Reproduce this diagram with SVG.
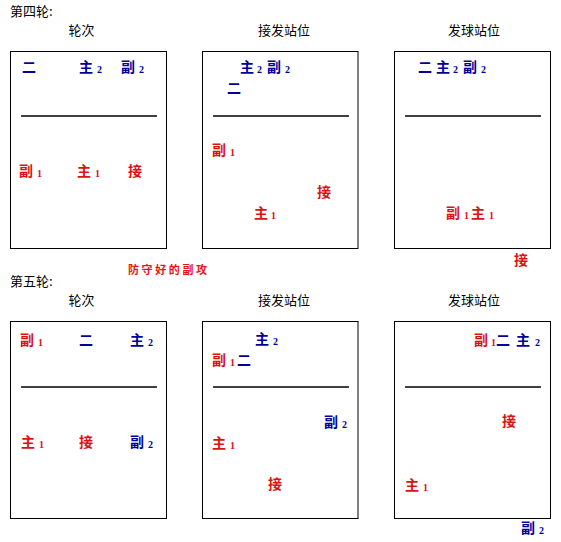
<svg xmlns="http://www.w3.org/2000/svg" width="561" height="542" viewBox="0 0 561 542">
<style>
.t{font-family:"Noto Sans CJK SC","Noto Sans",sans-serif;font-size:13px;fill:#000}
.p{font-family:"Noto Sans CJK SC","Noto Sans",sans-serif;font-size:14px;font-weight:bold}
.s{font-size:10px;font-family:"Liberation Serif",serif;font-weight:bold}
.b{fill:#000099}
.r{fill:#dd1111}
.box{fill:#fff;stroke:#000;stroke-width:1}
.net{stroke:#000;stroke-width:1.5}
.note{font-family:"Noto Sans CJK SC",sans-serif;font-size:11px;font-weight:bold;fill:#ee1111;letter-spacing:2.6px}
</style>
<rect width="561" height="542" fill="#fff"/>
<text class="t" x="10" y="16">第四轮:</text>
<text class="t" x="10" y="286">第五轮:</text>
<text class="note" x="128" y="274">防守好的副攻</text>

<g id="r4-rotation">
<text class="t" x="81.5" y="35" text-anchor="middle">轮次</text>
<rect class="box" x="10.5" y="51.5" width="156" height="197"/>
<line class="net" x1="21" y1="116" x2="157" y2="116"/>
<text class="p b" x="22" y="72">二</text>
<text class="p b" x="79" y="72">主<tspan class="s" dx="4" dy="1">2</tspan></text>
<text class="p b" x="121" y="72">副<tspan class="s" dx="4" dy="1">2</tspan></text>
<text class="p r" x="19" y="176">副<tspan class="s" dx="4" dy="1">1</tspan></text>
<text class="p r" x="77" y="176">主<tspan class="s" dx="4" dy="1">1</tspan></text>
<text class="p r" x="128" y="176">接</text>
</g>

<g id="r4-receive">
<text class="t" x="284" y="35" text-anchor="middle">接发站位</text>
<rect class="box" x="202.5" y="51.5" width="155.5" height="197"/>
<line class="net" x1="213" y1="116" x2="349" y2="116"/>
<text class="p b" x="240" y="72">主<tspan class="s" dx="3" dy="1">2</tspan></text>
<text class="p b" x="267" y="72">副<tspan class="s" dx="4" dy="1">2</tspan></text>
<text class="p b" x="227" y="93">二</text>
<text class="p r" x="212" y="155">副<tspan class="s" dx="4" dy="1">1</tspan></text>
<text class="p r" x="317" y="197">接</text>
<text class="p r" x="254" y="218">主<tspan class="s" dx="3" dy="1">1</tspan></text>
</g>

<g id="r4-serve">
<text class="t" x="474" y="35" text-anchor="middle">发球站位</text>
<rect class="box" x="394.5" y="51.5" width="156" height="197"/>
<line class="net" x1="405" y1="116" x2="541" y2="116"/>
<text class="p b" x="418" y="72">二</text>
<text class="p b" x="436" y="72">主<tspan class="s" dx="3" dy="1">2</tspan></text>
<text class="p b" x="463" y="72">副<tspan class="s" dx="4" dy="1">2</tspan></text>
<text class="p r" x="446" y="218">副<tspan class="s" dx="4" dy="1">1</tspan></text>
<text class="p r" x="471" y="218">主<tspan class="s" dx="4" dy="1">1</tspan></text>
<text class="p r" x="514" y="265">接</text>
</g>

<g id="r5-rotation">
<text class="t" x="81.5" y="305" text-anchor="middle">轮次</text>
<rect class="box" x="10.5" y="321.5" width="156" height="197"/>
<line class="net" x1="21" y1="387" x2="157" y2="387"/>
<text class="p r" x="20" y="345">副<tspan class="s" dx="4" dy="1">1</tspan></text>
<text class="p b" x="79" y="345">二</text>
<text class="p b" x="130" y="345">主<tspan class="s" dx="4" dy="1">2</tspan></text>
<text class="p r" x="21" y="447">主<tspan class="s" dx="4" dy="1">1</tspan></text>
<text class="p r" x="79" y="447">接</text>
<text class="p b" x="130" y="447">副<tspan class="s" dx="4" dy="1">2</tspan></text>
</g>

<g id="r5-receive">
<text class="t" x="284" y="305" text-anchor="middle">接发站位</text>
<rect class="box" x="202.5" y="321.5" width="155.5" height="197"/>
<line class="net" x1="213" y1="387" x2="349" y2="387"/>
<text class="p b" x="255" y="344">主<tspan class="s" dx="4" dy="1">2</tspan></text>
<text class="p r" x="212" y="365">副<tspan class="s" dx="4" dy="1">1</tspan></text>
<text class="p b" x="237" y="365">二</text>
<text class="p b" x="324" y="427">副<tspan class="s" dx="4" dy="1">2</tspan></text>
<text class="p r" x="212" y="448">主<tspan class="s" dx="4" dy="1">1</tspan></text>
<text class="p r" x="268" y="489">接</text>
</g>

<g id="r5-serve">
<text class="t" x="474" y="305" text-anchor="middle">发球站位</text>
<rect class="box" x="394.5" y="321.5" width="156" height="197"/>
<line class="net" x1="405" y1="387" x2="541" y2="387"/>
<text class="p r" x="474" y="345">副<tspan class="s" dx="3" dy="1">1</tspan></text>
<text class="p b" x="496" y="345">二</text>
<text class="p b" x="516" y="345">主<tspan class="s" dx="5" dy="1">2</tspan></text>
<text class="p r" x="502" y="426">接</text>
<text class="p r" x="405" y="490">主<tspan class="s" dx="4" dy="1">1</tspan></text>
<text class="p b" x="521" y="533">副<tspan class="s" dx="4" dy="1">2</tspan></text>
</g>
</svg>
